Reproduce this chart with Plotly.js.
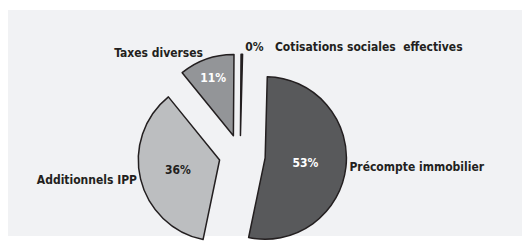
<!DOCTYPE html>
<html>
<head>
<meta charset="utf-8">
<script src="https://cdn.plot.ly/plotly-3.0.1.min.js"></script>
<style>
html,body{margin:0;padding:0;background:#ffffff;overflow:hidden;width:522px;height:243px;}
#chart{position:absolute;left:0;top:0;width:522px;height:310px;}
</style>
</head>
<body>
<div id="chart"></div>
<script>
// Data
const categories = ["Précompte immobilier", "Additionnels IPP", "Taxes diverses", "Cotisations sociales  effectives"];
const shares = [53, 36, 11, 0.3];
const sliceColors = ["#58595b", "#bcbec0", "#939598", "#231f20"];
const pulls = [0.31, 0.26, 0.25, 0.24];

const FONT = "'Liberation Sans Narrow', 'DejaVu Sans Condensed', 'Arial Narrow', sans-serif";
const INK = "#231f20";
const pct = "%{percent:.0%}";
const FS = 12;

const common = {
  type: "pie",
  labels: categories,
  values: shares,
  sort: false,
  direction: "clockwise",
  rotation: 1.5,
  pull: pulls,
  domain: {x: [0.249, 0.671], y: [0.1565, 0.8435]},
  hoverinfo: "none",
  showlegend: false,
  automargin: false
};

const slices = Object.assign({}, common, {
  marker: {colors: sliceColors, line: {color: INK, width: 1.5}},
  texttemplate: [pct, pct, pct, pct + "\u00a0\u00a0\u00a0%{label}"],
  textposition: ["inside", "inside", "inside", "outside"],
  insidetextorientation: "horizontal",
  insidetextfont: {family: FONT, size: FS, weight: 700, color: ["#ffffff", INK, "#ffffff", INK]},
  outsidetextfont: {family: FONT, size: FS, weight: 700, color: INK}
});

const labelsTrace = Object.assign({}, common, {
  marker: {colors: ["rgba(0,0,0,0)", "rgba(0,0,0,0)", "rgba(0,0,0,0)", "rgba(0,0,0,0)"], line: {width: 0}},
  texttemplate: ["%{label}", "%{label}", "%{label}", ""],
  textposition: "outside",
  outsidetextfont: {family: FONT, size: FS, weight: 700, color: INK}
});

const layout = {
  width: 522,
  height: 310,
  margin: {l: 0, r: 0, t: 0, b: 0},
  paper_bgcolor: "rgba(0,0,0,0)",
  plot_bgcolor: "rgba(0,0,0,0)",
  shapes: [{
    type: "rect", xref: "paper", yref: "paper", layer: "below",
    x0: 8 / 522, x1: 1, y0: 1 - 236 / 310, y1: 1 - 10 / 310,
    fillcolor: "#f1f2f4", line: {width: 0}
  }]
};

Plotly.newPlot("chart", [slices, labelsTrace], layout, {displayModeBar: false, staticPlot: true});
</script>
</body>
</html>
